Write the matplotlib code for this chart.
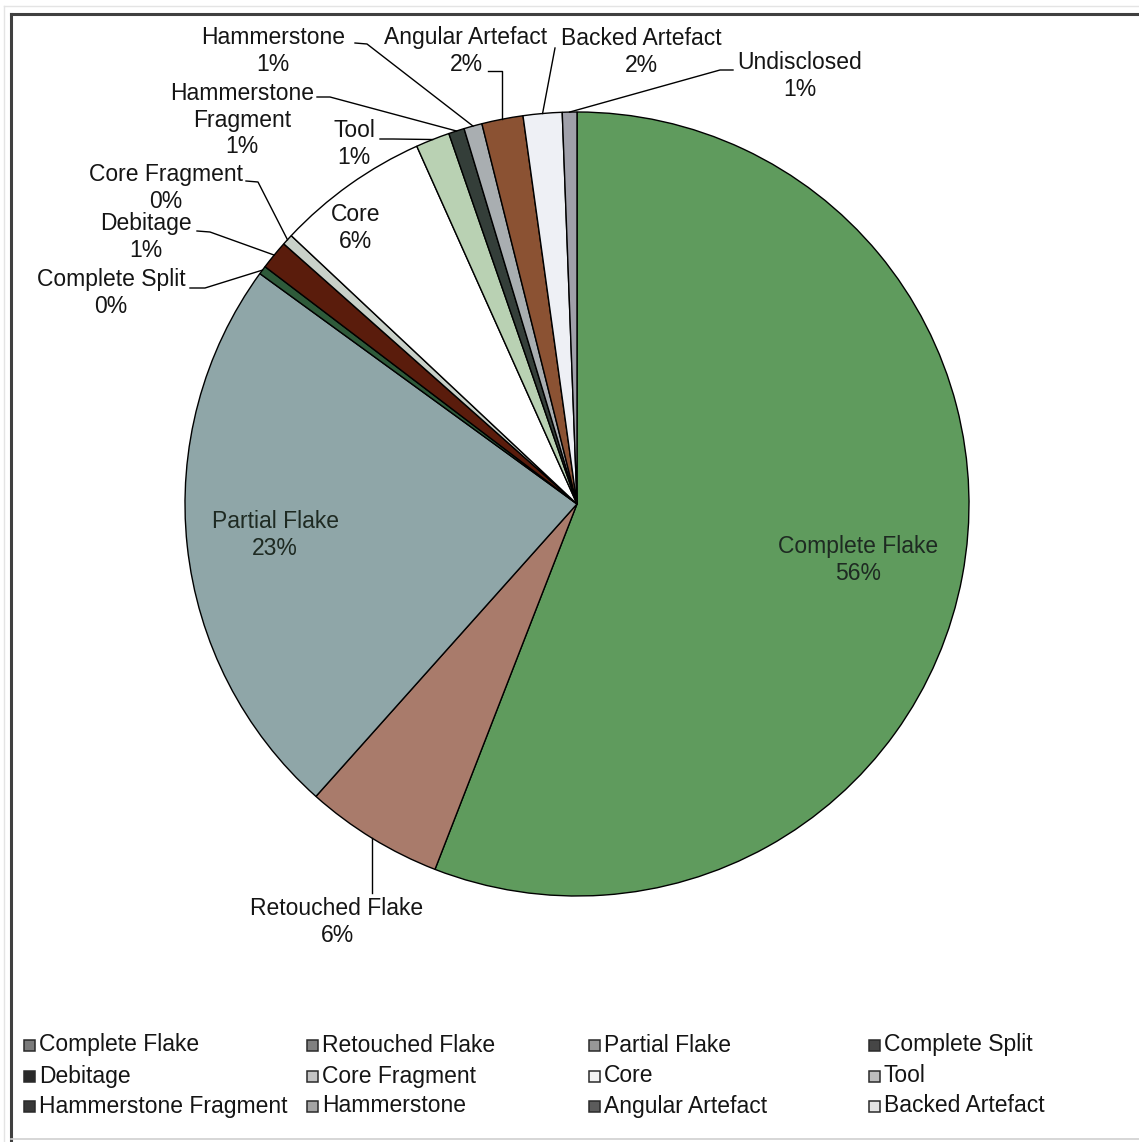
import matplotlib
matplotlib.use("Agg")
import matplotlib.pyplot as plt
from matplotlib.patches import Rectangle
from matplotlib.lines import Line2D
from matplotlib.colors import to_rgb
import numpy as np

# ---- data -------------------------------------------------------------
categories = ["Complete Flake", "Retouched Flake", "Partial Flake", "Complete Split",
              "Debitage", "Core Fragment", "Core", "Tool", "Hammerstone Fragment",
              "Hammerstone", "Angular Artefact", "Backed Artefact", "Undisclosed"]
shares = [55.9, 5.7, 23.4, 0.35, 1.2, 0.45, 6.3, 1.4, 0.65, 0.75, 1.7, 1.6, 0.6]
slice_names = ["Complete Flake", "Retouched Flake", "Partial Flake", "Complete Split",
               "Debitage", "Core Fragment", "Core", "Tool", "Hammerstone\nFragment",
               "Hammerstone", "Angular Artefact", "Backed Artefact", "Undisclosed"]
legend_entries = categories[:12]

colors = ["#5f9b5d", "#a97b6b", "#8fa6a8", "#2e5a3a", "#5a1c0c", "#c9d1c9",
          "#ffffff", "#b9d1b3", "#343e39", "#a9aeb1", "#8b5233", "#eef0f5", "#a0a0aa"]

W, H = 1139, 1142
plt.rcParams["font.family"] = ["Liberation Sans", "DejaVu Sans"]
FS = 16.5

fig = plt.figure(figsize=(W / 100, H / 100), dpi=100)
ax = fig.add_axes([0, 0, 1, 1])

def Y(y):
    return H - y

cx, cy, R = 577, Y(504), 392
wedges, _ = ax.pie(shares, colors=colors, startangle=90, counterclock=False,
                   center=(cx, cy), radius=R, frame=True,
                   wedgeprops=dict(edgecolor="black", linewidth=1.0))
ax.set_xlim(0, W)
ax.set_ylim(0, H)
ax.set_aspect("auto")
ax.axis("off")

total = sum(shares)
pct = [f"{v / total * 100:.0f}%" for v in shares]

def arc_point(w):
    mid = np.deg2rad((w.theta1 + w.theta2) / 2)
    return cx + R * np.cos(mid), cy + R * np.sin(mid)

# label centre (x, y) and leader polyline start points (None x => arc x)
layout = {
    "Complete Flake": ((858, 560), None),
    "Retouched Flake": ((337, 922), [(None, 893)]),
    "Partial Flake": ((275, 535), None),
    "Complete Split": ((111, 293), [(190, 288), (205, 288)]),
    "Debitage": ((146, 237), [(197, 231), (210, 232)]),
    "Core Fragment": ((166, 188), [(246, 181), (258, 182)]),
    "Core": ((356, 228), None),
    "Tool": ((354, 144), [(380, 139), (393, 139)]),
    "Hammerstone Fragment": ((242, 120), [(317, 97), (330, 97)]),
    "Hammerstone": ((273, 51), [(355, 43), (367, 44)]),
    "Angular Artefact": ((466, 51), [(488, 71), (None, 71)]),
    "Backed Artefact": ((641, 52), [(555, 48)]),
    "Undisclosed": ((800, 76), [(733, 70), (720, 70)]),
}

for name, label, p, w in zip(categories, slice_names, pct, wedges):
    (tx, ty), leader = layout[name]
    inside = leader is None and name != "Core"
    ax.text(tx, Y(ty), f"{label}\n{p}", ha="center", va="center", fontsize=FS,
            color="#1e2a22" if inside else "#151515", linespacing=1.2)
    if leader:
        ax_, ay_ = arc_point(w)
        xs = [ax_ if x is None else x for x, _ in leader] + [ax_]
        ys = [Y(y) for _, y in leader] + [ay_]
        ax.add_line(Line2D(xs, ys, color="black", lw=1.0))

# ---- legend -----------------------------------------------------------
col_x = [24, 307, 589, 869]
row_y = [1045, 1076, 1106]
for i, name in enumerate(legend_entries):
    r, c = divmod(i, 4)
    x0, y0 = col_x[c], row_y[r]
    rgb = to_rgb(colors[i])
    g = 0.299 * rgb[0] + 0.587 * rgb[1] + 0.114 * rgb[2]
    g = min(1.0, g * 0.95)
    ax.add_patch(Rectangle((x0, Y(y0) - 5.5), 11, 11, facecolor=(g, g, g),
                           edgecolor="#2a2a2a", lw=1.1))
    ax.text(x0 + 15, Y(y0), name, ha="left", va="center", fontsize=FS,
            color="#151515")

# ---- frame ------------------------------------------------------------
ax.add_line(Line2D([11, 11], [Y(14), Y(1140)], color="#404040", lw=2.2))
ax.add_line(Line2D([11, W], [Y(14), Y(14)], color="#404040", lw=2.2))
ax.add_line(Line2D([4, W], [Y(6), Y(6)], color="#e4e4e4", lw=1.0))
ax.add_line(Line2D([4, 4], [Y(6), Y(1142)], color="#e4e4e4", lw=1.0))
ax.add_line(Line2D([11, W], [Y(1139), Y(1139)], color="#d0d0d0", lw=1.2))

fig.savefig("out.png", dpi=100)
